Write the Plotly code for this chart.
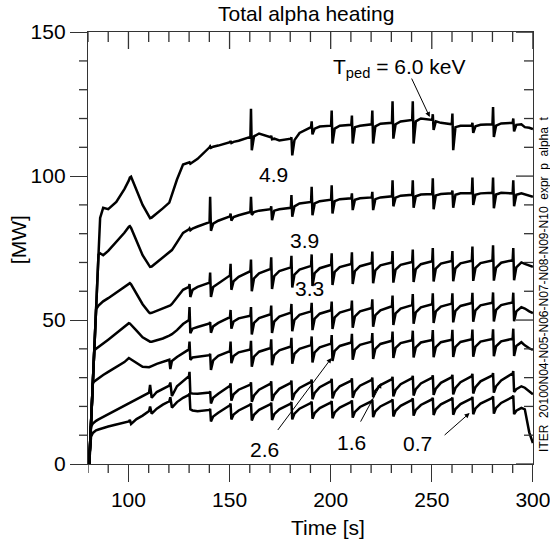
import plotly.graph_objects as go

# ---------------- data ----------------
time_s = [
    80.6, 81.1, 81.5, 82.4, 83.1, 84.0, 85.2, 86.0, 87.5, 90.0, 94.0, 98.0,
    100.2, 100.7, 101.3, 104.0, 107.0, 110.2, 110.7, 111.5, 114.0, 117.0,
    120.2, 120.7, 121.5, 124.0, 127.0,
    129.9, 130.2, 130.6, 131.7, 134.2,
    140.1, 140.4, 140.8, 141.9, 144.4,
    150.2, 150.5, 150.9, 152.0, 154.5,
    160.3, 160.6, 161.0, 162.1, 164.6,
    170.3, 170.6, 171.0, 172.1, 174.6,
    180.3, 180.6, 181.0, 182.1, 184.6,
    190.3, 190.6, 191.0, 192.1, 194.6,
    200.2, 200.5, 200.9, 202.0, 204.5,
    210.2, 210.5, 210.9, 212.0, 214.5,
    220.3, 220.6, 221.0, 222.1, 224.6,
    230.3, 230.6, 231.0, 232.1, 234.6,
    240.3, 240.6, 241.0, 242.1, 244.6,
    250.2, 250.5, 250.9, 252.0, 254.5,
    259.9, 260.2, 260.6, 261.7, 264.2,
    269.8, 270.1, 270.5, 271.6, 274.1,
    280.0, 280.3, 280.7, 281.8, 284.3,
    290.0, 290.3, 290.7, 291.8, 294.3,
    296.0, 298.2, 300.0,
]

p_alpha_60 = [
    0.0, 7.9, 14.2, 28.4, 39.5, 53.7, 72.7, 85.5, 89.0, 88.5, 91.0, 95.5,
    98.5, 99.5, 99.8, 95.0, 90.0, 86.0, 85.4, 85.6, 87.2, 88.8,
    90.8, 91.8, 93.5, 98.8, 104.0,
    104.5, 104.8, 104.3, 104.8, 106.0,
    110.0, 110.3, 109.8, 110.2, 110.6,
    111.8, 112.2, 111.5, 111.9, 112.3,
    113.6, 123.4, 109.0, 113.8, 114.8,
    113.5, 114.0, 112.8, 113.0, 112.4,
    113.0, 113.5, 107.2, 112.5, 115.0,
    117.0, 119.0, 114.5, 116.5, 117.2,
    117.5, 122.8, 111.3, 116.5, 117.5,
    117.8, 121.0, 111.3, 117.0, 117.5,
    118.0, 122.8, 111.3, 117.3, 118.2,
    118.5, 126.0, 113.0, 118.0, 119.0,
    119.5, 126.0, 111.3, 119.0, 120.0,
    119.5, 121.5, 116.0, 119.0, 118.5,
    118.0, 121.7, 109.0, 117.0, 117.5,
    117.5, 118.5, 115.0, 117.3, 117.8,
    118.0, 124.0, 113.6, 117.5, 118.3,
    118.5, 120.0, 115.5, 117.8, 118.0,
    117.0, 116.8, 116.3,
]

p_alpha_49 = [
    0.0, 7.9, 14.2, 28.4, 39.5, 53.7, 72.7, 73.2, 72.5, 74.0, 77.0, 80.3,
    82.4, 82.6, 82.0, 77.5, 72.5, 69.0, 68.5, 68.6, 70.0, 71.8,
    73.5, 73.8, 74.3, 77.0, 80.3,
    81.5, 81.8, 81.2, 81.8, 82.5,
    84.0, 92.8, 81.0, 83.5, 84.5,
    86.0, 87.0, 84.5, 85.8, 86.4,
    87.5, 92.8, 86.5, 87.5, 88.0,
    88.5, 89.5, 84.7, 88.0, 88.5,
    89.0, 93.4, 85.9, 89.5, 90.5,
    91.0, 96.3, 86.4, 90.5, 91.3,
    91.8, 96.8, 87.0, 91.3, 92.0,
    92.3, 94.0, 88.2, 91.8, 92.3,
    92.6, 94.5, 88.2, 92.0, 92.6,
    93.0, 98.5, 89.5, 92.5, 93.2,
    93.5, 98.5, 89.0, 93.0, 93.6,
    93.8, 99.2, 88.5, 93.3, 93.8,
    94.0, 95.0, 89.0, 93.5, 94.0,
    94.0, 99.5, 90.0, 93.5, 94.0,
    94.2, 99.5, 88.8, 93.6, 94.2,
    94.0, 98.5, 89.5, 93.5, 94.0,
    93.6, 93.2, 92.8,
]

p_alpha_39 = [
    0.0, 7.9, 14.2, 28.4, 39.5, 53.7, 55.0, 55.6, 56.5, 57.6, 59.6, 61.4,
    62.6, 62.8, 62.4, 59.2, 55.5, 52.6, 52.4, 52.5, 53.2, 54.0,
    54.9, 55.1, 55.6, 57.8, 60.5,
    61.5, 62.5, 58.0, 60.5, 61.5,
    63.0, 66.5, 58.0, 61.5, 62.8,
    65.5, 69.5, 60.5, 63.5, 65.0,
    67.0, 71.0, 60.0, 64.5, 66.2,
    67.8, 71.8, 60.8, 65.3, 67.0,
    68.3, 72.3, 61.3, 65.8, 67.5,
    68.8, 72.8, 61.8, 66.3, 68.0,
    69.2, 73.2, 62.2, 66.7, 68.4,
    69.5, 73.5, 62.5, 67.0, 68.7,
    69.8, 73.8, 62.8, 67.3, 69.0,
    70.0, 74.0, 63.0, 67.5, 69.2,
    70.2, 74.5, 63.2, 67.7, 69.4,
    70.4, 75.0, 63.4, 67.9, 69.6,
    70.5, 74.0, 63.5, 68.0, 69.7,
    70.6, 75.5, 63.6, 68.1, 69.8,
    70.7, 76.0, 63.7, 68.2, 69.9,
    70.8, 75.0, 63.8, 68.3, 70.0,
    69.5, 68.8, 68.5,
]

p_alpha_33 = [
    0.0, 7.9, 14.2, 28.4, 39.5, 40.0, 40.6, 41.0, 41.8, 43.2, 45.4, 47.6,
    48.9, 48.8, 48.4, 46.3, 44.0, 42.6, 42.5, 42.5, 42.9, 43.6,
    44.6, 44.8, 45.1, 46.5, 48.6,
    50.0, 54.5, 45.4, 47.0, 47.6,
    48.8, 49.3, 45.6, 47.8, 49.0,
    51.0, 53.5, 47.0, 49.5, 50.6,
    51.5, 54.5, 45.0, 49.0, 50.7,
    52.0, 55.0, 45.5, 49.5, 51.2,
    52.6, 55.6, 46.1, 50.1, 51.8,
    53.0, 56.0, 46.5, 50.5, 52.2,
    53.4, 56.4, 46.9, 50.9, 52.6,
    53.8, 56.8, 47.3, 51.3, 53.0,
    54.2, 57.2, 47.7, 51.7, 53.4,
    54.8, 58.5, 48.3, 52.3, 54.0,
    55.2, 59.0, 48.7, 52.7, 54.4,
    55.5, 59.3, 49.0, 53.0, 54.7,
    55.7, 59.3, 49.2, 53.2, 54.9,
    55.9, 59.5, 49.4, 53.4, 55.1,
    56.0, 59.6, 49.5, 53.5, 55.2,
    56.1, 59.5, 49.6, 53.0, 54.5,
    54.0, 53.0, 52.4,
]

p_alpha_26 = [
    0.0, 7.9, 14.2, 28.0, 28.7, 29.2, 29.8, 30.2, 30.9, 32.0, 33.6, 35.4,
    36.8, 36.6, 36.2, 35.0, 33.8, 33.6, 33.8, 34.0, 34.8, 35.6,
    36.2, 33.0, 35.8, 37.2, 38.6,
    39.8, 42.5, 36.2, 37.0, 37.3,
    37.8, 38.3, 32.7, 36.0, 37.6,
    39.2, 42.5, 35.0, 37.5, 38.8,
    39.8, 42.8, 33.8, 37.3, 39.0,
    40.3, 43.3, 34.3, 37.8, 39.5,
    40.8, 43.8, 34.8, 38.3, 40.0,
    41.3, 44.3, 35.3, 38.8, 40.5,
    41.8, 44.8, 35.8, 39.3, 41.0,
    42.2, 45.2, 36.2, 39.7, 41.4,
    42.5, 45.5, 36.5, 40.0, 41.7,
    42.8, 46.0, 36.8, 40.3, 42.0,
    43.0, 46.3, 37.0, 40.5, 42.2,
    43.1, 46.5, 37.1, 40.6, 42.3,
    43.2, 46.6, 37.2, 40.7, 42.4,
    43.3, 46.7, 37.3, 40.8, 42.5,
    43.4, 46.8, 37.4, 40.9, 42.6,
    43.5, 47.0, 37.5, 41.0, 42.3,
    41.2, 40.2, 39.6,
]

p_alpha_16 = [
    0.0, 7.9, 13.0, 14.0, 14.5, 15.0, 15.5, 15.8, 16.4, 17.3, 18.8, 20.3,
    21.1, 21.3, 21.5, 22.5, 23.6, 24.8, 27.5, 23.0, 25.0, 26.2,
    27.2, 28.3, 23.6, 27.0, 28.8,
    30.5, 32.0, 24.6, 24.5, 24.4,
    24.8, 25.2, 21.0, 23.0, 24.4,
    27.2, 28.0, 22.0, 24.2, 25.8,
    27.6, 28.4, 21.6, 23.8, 25.8,
    27.9, 28.7, 21.9, 24.1, 26.1,
    28.2, 29.0, 22.2, 24.4, 26.4,
    28.5, 29.3, 22.5, 24.7, 26.7,
    28.8, 29.6, 22.8, 25.0, 27.0,
    29.0, 29.8, 23.0, 25.2, 27.2,
    29.2, 30.0, 23.2, 25.4, 27.4,
    29.5, 30.3, 23.5, 25.7, 27.7,
    29.8, 30.6, 23.8, 26.0, 28.0,
    30.0, 30.8, 24.0, 26.2, 28.2,
    30.2, 31.0, 24.2, 26.4, 28.4,
    30.5, 31.3, 24.5, 26.7, 28.7,
    30.8, 31.6, 24.8, 27.0, 29.0,
    31.5, 32.3, 25.0, 26.0, 27.0,
    26.5, 25.2, 24.2,
]

p_alpha_07 = [
    0.0, 7.9, 9.5, 10.8, 11.3, 11.7, 12.0, 12.2, 12.5, 13.0, 13.7, 14.4,
    14.8, 15.3, 13.9, 15.6, 16.8, 18.4, 20.0, 17.5, 19.2, 20.6,
    21.8, 23.2, 19.6, 21.5, 23.0,
    24.0, 24.5, 19.0, 18.6, 18.3,
    18.8, 19.2, 14.8, 16.5, 17.8,
    20.4, 21.0, 15.5, 17.2, 18.6,
    20.6, 21.1, 15.1, 17.1, 18.8,
    20.8, 21.3, 15.3, 17.3, 19.0,
    21.0, 21.5, 15.5, 17.5, 19.2,
    21.2, 21.7, 15.7, 17.7, 19.4,
    21.4, 21.9, 15.9, 17.9, 19.6,
    21.6, 22.1, 16.1, 18.1, 19.8,
    21.8, 22.3, 16.3, 18.3, 20.0,
    22.0, 22.5, 16.5, 18.5, 20.2,
    22.3, 22.8, 16.8, 18.8, 20.5,
    22.5, 23.0, 17.0, 19.0, 20.7,
    22.6, 23.1, 17.1, 19.1, 20.8,
    22.8, 23.3, 17.3, 19.3, 21.0,
    23.0, 23.5, 17.5, 19.5, 21.2,
    23.3, 23.8, 17.3, 18.5, 19.5,
    19.0, 11.0, 7.3,
]

series = [p_alpha_60, p_alpha_49, p_alpha_39, p_alpha_33,
          p_alpha_26, p_alpha_16, p_alpha_07]
ped_labels = ["6.0", "4.9", "3.9", "3.3", "2.6", "1.6", "0.7"]

x_major_ticks = [100, 150, 200, 250, 300]
x_minor_ticks = [80, 90, 110, 120, 130, 140, 160, 170, 180, 190,
                 210, 220, 230, 240, 260, 270, 280, 290]
y_major_ticks = [0, 50, 100, 150]
y_minor_ticks = [10, 20, 30, 40, 60, 70, 80, 90, 110, 120, 130, 140]

# ---------------- figure ----------------
FONT = "Liberation Sans, Arial, Helvetica, sans-serif"
INK = "#000000"
AX = "#333333"
TW = 1.3
X_RANGE = [80, 300.05]
Y_RANGE = [0, 150.05]
PLOT_W = 445.0   # plot-area size in px (550 - 88 - 17)
PLOT_H = 432.0   # (544 - 32 - 80)

fig = go.Figure()
for vals, lab in zip(series, ped_labels):
    fig.add_trace(go.Scatter(x=time_s, y=vals, mode="lines", name=lab,
                             line=dict(color=INK, width=2.5),
                             hoverinfo="skip"))

common = dict(showgrid=False, zeroline=False, showline=True, mirror=True,
              linecolor=AX, linewidth=TW, tickcolor=AX, tickwidth=TW,
              automargin=False, ticks="outside", ticklen=17,
              ticklabeloverflow="allow", tickfont=dict(size=21, family=FONT))

fig.update_layout(
    width=550, height=544,
    margin=dict(l=88, r=17, t=32, b=80, autoexpand=False),
    paper_bgcolor="white", plot_bgcolor="white",
    showlegend=False,
    font=dict(family=FONT, size=21, color=INK),
    xaxis=dict(range=X_RANGE, tickmode="array", tickvals=x_major_ticks,
               ticktext=[str(v) for v in x_major_ticks], **common),
    yaxis=dict(range=Y_RANGE, tickmode="array", tickvals=y_major_ticks,
               ticktext=[str(v) for v in y_major_ticks], **common),
)

# outward minor ticks on the bottom/left, inward major+minor ticks on the
# mirrored top/right frame
shapes = []
tick_line = dict(color=AX, width=TW)
for t in x_minor_ticks:
    shapes.append(dict(type="line", xref="x", yref="paper", x0=t, x1=t,
                       y0=0, y1=-9 / PLOT_H, line=tick_line, layer="above"))
    shapes.append(dict(type="line", xref="x", yref="paper", x0=t, x1=t,
                       y0=1, y1=1 - 10 / PLOT_H, line=tick_line, layer="above"))
for t in x_major_ticks:
    shapes.append(dict(type="line", xref="x", yref="paper", x0=t, x1=t,
                       y0=1, y1=1 - 17 / PLOT_H, line=tick_line, layer="above"))
for v in y_minor_ticks:
    shapes.append(dict(type="line", xref="paper", yref="y", x0=0,
                       x1=-9 / PLOT_W, y0=v, y1=v, line=tick_line,
                       layer="above"))
    shapes.append(dict(type="line", xref="paper", yref="y", x0=1,
                       x1=1 - 9 / PLOT_W, y0=v, y1=v, line=tick_line,
                       layer="above"))
for v in y_major_ticks:
    shapes.append(dict(type="line", xref="paper", yref="y", x0=1,
                       x1=1 - 17 / PLOT_W, y0=v, y1=v, line=tick_line,
                       layer="above"))

ann = []
# title and axis titles
ann.append(dict(text="Total alpha heating", xref="paper", yref="paper",
                x=0.49, y=1.042, xanchor="center", yanchor="middle",
                showarrow=False, font=dict(size=21, family=FONT)))
ann.append(dict(text="Time [s]", xref="paper", yref="paper",
                x=0.539, y=-0.148, xanchor="center", yanchor="middle",
                showarrow=False, font=dict(size=21, family=FONT)))
ann.append(dict(text="[MW]", xref="paper", yref="paper",
                x=-0.157, y=0.5185, xanchor="center", yanchor="middle",
                textangle=-90, showarrow=False, font=dict(size=21, family=FONT)))
ann.append(dict(text="ITER  20100N04-N05-N06-N07-N08-N09-N10  expr  p  alpha  t",
                xref="paper", yref="paper", x=1.0245, y=0.4167,
                xanchor="center", yanchor="middle", textangle=-90,
                showarrow=False, font=dict(size=12, family=FONT)))

# curve labels
ann.append(dict(text="T<sub>ped</sub> = 6.0 keV", x=234.2, y=137.4,
                xref="x", yref="y", showarrow=False,
                xanchor="center", yanchor="middle",
                font=dict(size=21, family=FONT)))
for txt, tx, ty in [("4.9", 171.5, 100.4), ("3.9", 187.3, 77.8),
                    ("3.3", 189.7, 60.8), ("2.6", 167.5, 5.0),
                    ("1.6", 210.5, 7.4), ("0.7", 243.0, 7.0)]:
    ann.append(dict(text=txt, x=tx, y=ty, xref="x", yref="y",
                    showarrow=False, xanchor="center", yanchor="middle",
                    font=dict(size=21, family=FONT)))

# arrows (head -> x,y ; tail -> ax,ay)
for hx, hy, tx, ty in [(249.0, 120.5, 239.7, 134.4),
                       (200.4, 36.8, 173.3, 11.3),
                       (225.1, 28.1, 214.4, 14.2),
                       (268.7, 17.7, 255.6, 9.6)]:
    ann.append(dict(text="", x=hx, y=hy, ax=tx, ay=ty, xref="x", yref="y",
                    axref="x", ayref="y", showarrow=True, arrowhead=2,
                    arrowsize=1.0, arrowwidth=1, arrowcolor=INK,
                    standoff=0, startstandoff=0))

fig.update_layout(annotations=ann, shapes=shapes)
fig.write_html("out.html")
